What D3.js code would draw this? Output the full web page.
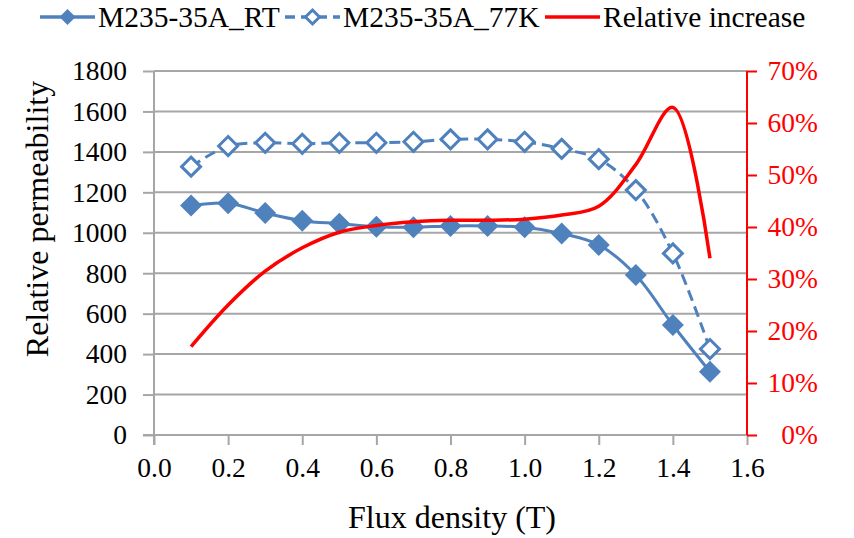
<!DOCTYPE html>
<html>
<head>
<meta charset="utf-8">
<script src="https://cdn.jsdelivr.net/npm/d3@7"></script>
<style>
  html, body { margin: 0; padding: 0; background: #fff; }
  svg { display: block; }
  svg text { font-family: "Liberation Serif", "Times New Roman", Times, "Noto Serif", "DejaVu Serif", serif !important; }
</style>
</head>
<body>
<svg id="chart" width="854" height="538"></svg>
<script>
// Flux density steps (T)
const flux = [0.1, 0.2, 0.3, 0.4, 0.5, 0.6, 0.7, 0.8, 0.9, 1.0, 1.1, 1.2, 1.3, 1.4, 1.5];
// Relative permeability at room temperature
const permRT = [1135, 1146, 1098, 1060, 1045, 1030, 1027, 1034, 1034, 1027, 996, 940, 791, 544, 313];
// Relative permeability at 77 K
const perm77K = [1327, 1429, 1445, 1440, 1445, 1445, 1450, 1462, 1462, 1450, 1415, 1364, 1211, 898, 425];
// Relative increase from RT to 77 K (%)
const relIncrease = [17, 25, 31.5, 36, 39, 40.3, 41, 41.3, 41.3, 41.5, 42.3, 44, 52, 63, 34];

const xTicks = [0.0, 0.2, 0.4, 0.6, 0.8, 1.0, 1.2, 1.4, 1.6];
const yTicks = [0, 200, 400, 600, 800, 1000, 1200, 1400, 1600, 1800];
const y2Ticks = [0, 10, 20, 30, 40, 50, 60, 70];
const seriesNames = ["M235-35A_RT", "M235-35A_77K", "Relative increase"];

const BLUE = "#4F81BD", RED = "#FF0000", GRID = "#A6A6A6";
const FONT = '"Liberation Serif", "Times New Roman", Times, "Noto Serif", "DejaVu Serif", serif';

const svg = d3.select("#chart");
const plot = { left: 154, right: 747, top: 71, bottom: 435 };

const x = d3.scaleLinear().domain([0, 1.6]).range([plot.left, plot.right]);
const y = d3.scaleLinear().domain([0, 1800]).range([plot.bottom, plot.top]);
const y2 = d3.scaleLinear().domain([0, 70]).range([plot.bottom, plot.top]);

// Horizontal gridlines
svg.append("g")
  .selectAll("line")
  .data(yTicks.filter(d => d > 0))
  .join("line")
  .attr("x1", plot.left).attr("x2", plot.right)
  .attr("y1", d => y(d)).attr("y2", d => y(d))
  .attr("stroke", GRID).attr("stroke-width", 2);

// Left axis
const yAxis = svg.append("g")
  .attr("transform", `translate(${plot.left},0)`)
  .call(d3.axisLeft(y).tickValues(yTicks).tickSize(11).tickPadding(16).tickFormat(d3.format("d")));
yAxis.attr("font-family", FONT);
yAxis.select(".domain").attr("stroke", GRID).attr("stroke-width", 2).attr("d", `M0,${plot.top}V${plot.bottom + 10}`);
yAxis.selectAll(".tick line").attr("stroke", GRID).attr("stroke-width", 2);
yAxis.selectAll(".tick text").style("font-size", "27.5px").attr("fill", "#000");

// Bottom axis
const xAxis = svg.append("g")
  .attr("transform", `translate(0,${plot.bottom})`)
  .call(d3.axisBottom(x).tickValues(xTicks).tickSize(10).tickPadding(12).tickFormat(d3.format(".1f")));
xAxis.attr("font-family", FONT);
xAxis.select(".domain").attr("stroke", GRID).attr("stroke-width", 2).attr("d", `M${plot.left - 11},0H${plot.right}`);
xAxis.selectAll(".tick line").attr("stroke", GRID).attr("stroke-width", 2);
xAxis.selectAll(".tick text").style("font-size", "27.5px").attr("fill", "#000");

// Right axis (percent), labels right-aligned
const y2Axis = svg.append("g")
  .attr("transform", `translate(${plot.right},0)`)
  .call(d3.axisRight(y2).tickValues(y2Ticks).tickSize(10).tickFormat(d => d + "%"));
y2Axis.attr("font-family", FONT);
y2Axis.select(".domain").attr("stroke", RED).attr("stroke-width", 2).attr("d", `M0,${plot.top}V${plot.bottom}`);
y2Axis.selectAll(".tick line").attr("stroke", RED).attr("stroke-width", 2);
y2Axis.selectAll(".tick text")
  .attr("x", 71).attr("text-anchor", "end")
  .style("font-size", "27.5px").attr("fill", RED);

// Axis titles
svg.append("text")
  .attr("transform", "translate(48,219) rotate(-90)")
  .attr("text-anchor", "middle")
  .attr("font-family", FONT)
  .style("font-size", "32px")
  .text("Relative permeability");
svg.append("text")
  .attr("x", 452)
  .attr("y", 528)
  .attr("text-anchor", "middle")
  .attr("font-family", FONT)
  .style("font-size", "32px")
  .text("Flux density (T)");

const curve = d3.curveCatmullRom.alpha(0.5);
const diamond = r => `M0,${-r}L${r},0L0,${r}L${-r},0Z`;

// 77 K series: dashed line, open diamonds
const line77 = d3.line().x((d, i) => x(flux[i])).y(d => y(d)).curve(curve);
svg.append("path").datum(perm77K)
  .attr("d", line77).attr("fill", "none")
  .attr("stroke", BLUE).attr("stroke-width", 3).attr("stroke-dasharray", "11,6");
svg.append("g").selectAll("path")
  .data(perm77K).join("path")
  .attr("transform", (d, i) => `translate(${x(flux[i])},${y(d)})`)
  .attr("d", diamond(9.5))
  .attr("fill", "#fff").attr("stroke", BLUE).attr("stroke-width", 3);

// RT series: solid line, filled diamonds
const lineRT = d3.line().x((d, i) => x(flux[i])).y(d => y(d)).curve(curve);
svg.append("path").datum(permRT)
  .attr("d", lineRT).attr("fill", "none")
  .attr("stroke", BLUE).attr("stroke-width", 3);
svg.append("g").selectAll("path")
  .data(permRT).join("path")
  .attr("transform", (d, i) => `translate(${x(flux[i])},${y(d)})`)
  .attr("d", diamond(11))
  .attr("fill", BLUE);

// Relative increase on the secondary axis
const lineRel = d3.line().x((d, i) => x(flux[i])).y(d => y2(d)).curve(curve);
svg.append("path").datum(relIncrease)
  .attr("d", lineRel).attr("fill", "none")
  .attr("stroke", RED).attr("stroke-width", 3.5);

// Legend
const legendY = 17;
const legend = svg.append("g").attr("font-family", FONT);
const items = [
  { x0: 40, name: seriesNames[0], color: BLUE, dash: null, marker: "filled" },
  { x0: 285, name: seriesNames[1], color: BLUE, dash: "10,6", marker: "open" },
  { x0: 545, name: seriesNames[2], color: RED, dash: null, marker: null }
];
items.forEach(it => {
  const g = legend.append("g");
  g.append("line")
    .attr("x1", it.x0).attr("x2", it.x0 + 55)
    .attr("y1", legendY).attr("y2", legendY)
    .attr("stroke", it.color).attr("stroke-width", 3.5)
    .attr("stroke-dasharray", it.dash);
  if (it.marker === "filled") {
    g.append("path").attr("transform", `translate(${it.x0 + 27.5},${legendY})`)
      .attr("d", diamond(8)).attr("fill", it.color);
  } else if (it.marker === "open") {
    g.append("path").attr("transform", `translate(${it.x0 + 27.5},${legendY})`)
      .attr("d", diamond(7)).attr("fill", "#fff").attr("stroke", it.color).attr("stroke-width", 3);
  }
  g.append("text")
    .attr("x", it.x0 + 58).attr("y", legendY + 10)
    .style("font-size", "29.5px")
    .text(it.name);
});
</script>
</body>
</html>
